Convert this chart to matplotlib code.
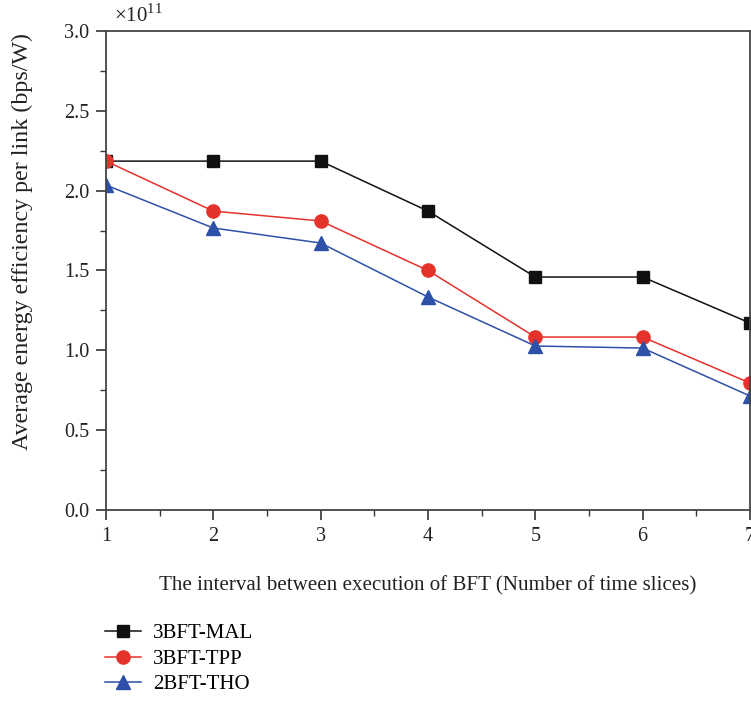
import matplotlib
matplotlib.use("Agg")
import matplotlib.pyplot as plt
from matplotlib.ticker import MultipleLocator, FuncFormatter

plt.rcParams['font.family'] = ['Liberation Serif', 'DejaVu Serif']
plt.rcParams['mathtext.fontset'] = 'custom'
plt.rcParams['mathtext.rm'] = 'Liberation Serif'

intervals = [1, 2, 3, 4, 5, 6, 7]
mal = [2.185e11, 2.185e11, 2.185e11, 1.872e11, 1.459e11, 1.459e11, 1.171e11]
tpp = [2.185e11, 1.872e11, 1.810e11, 1.500e11, 1.083e11, 1.083e11, 0.795e11]
tho = [2.035e11, 1.766e11, 1.672e11, 1.334e11, 1.027e11, 1.014e11, 0.714e11]
series_names = ['3BFT-MAL', '3BFT-TPP', '2BFT-THO']
scale_exp = 11

fig = plt.figure(figsize=(7.51, 7.01), dpi=100)
ax = fig.add_axes([0.1411, 0.2725, 0.8576, 0.6833])

h1, = ax.plot(intervals, mal, color='#111111', lw=1.1, marker='s', ms=8.5,
              label=series_names[0])
h2, = ax.plot(intervals, tpp, color='#e5322a', lw=1.1, marker='o', ms=9.5,
              label=series_names[1])
h3, = ax.plot(intervals, tho, color='#2d50a8', lw=1.1, marker='^', ms=10,
              label=series_names[2])

ax.set_xlim(1, 7)
ax.set_ylim(0, 3.0e11)
ax.xaxis.set_major_locator(MultipleLocator(1))
ax.xaxis.set_minor_locator(MultipleLocator(0.5))
ax.yaxis.set_major_locator(MultipleLocator(0.5e11))
ax.yaxis.set_minor_locator(MultipleLocator(0.25e11))
ax.yaxis.set_major_formatter(
    FuncFormatter(lambda v, pos: f"{v / 10 ** scale_exp:.1f}"))
ax.text(0.012, 1.008, r'$\times10^{%d}$' % scale_exp, transform=ax.transAxes,
        fontsize=15, ha='left', va='bottom', color='#222222')

ax.tick_params(which='major', direction='out', length=7, width=1.2,
               labelsize=14.5, colors='#333333', labelcolor='#222222', pad=5)
ax.tick_params(which='minor', direction='out', length=4, width=1.0,
               colors='#333333')
for s in ax.spines.values():
    s.set_linewidth(1.3)
    s.set_color('#444444')

ax.set_xlabel('The interval between execution of BFT (Number of time slices)',
              fontsize=15.1, labelpad=22, color='#222222')
ax.set_ylabel('Average energy efficiency per link (bps/W)', fontsize=17.3,
              color='#222222')
ax.yaxis.set_label_coords(-0.114, 0.56)

fig.legend(handles=[h1, h2, h3], loc='upper left',
           bbox_to_anchor=(0.129, 0.122), frameon=False, fontsize=15,
           handlelength=1.7, handletextpad=0.6, labelspacing=0.28,
           borderaxespad=0)

fig.savefig('out.png', dpi=100)
